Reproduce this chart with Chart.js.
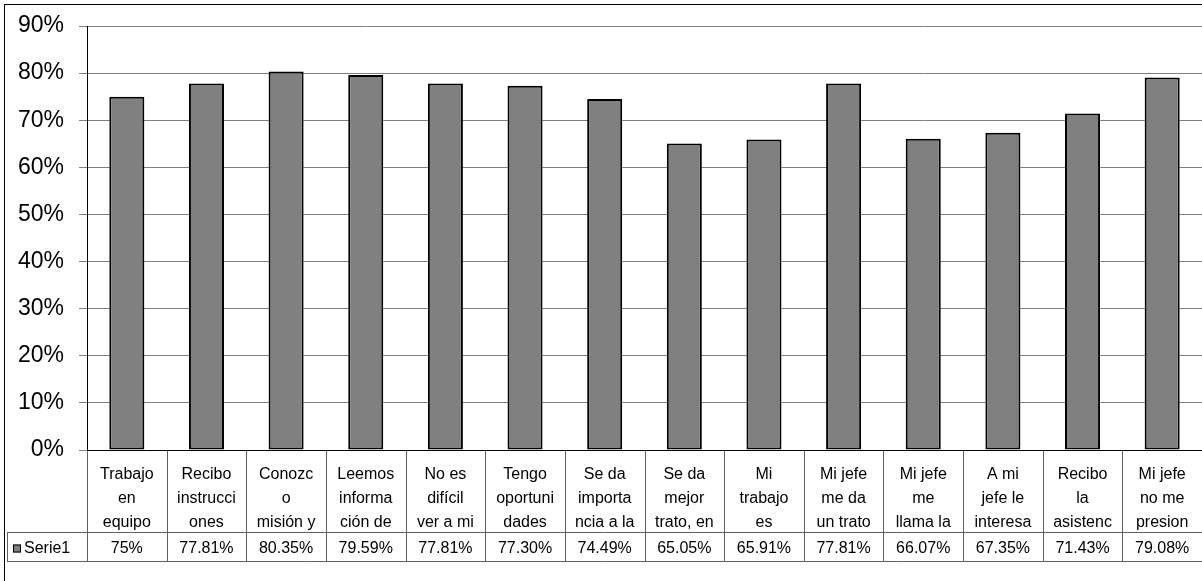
<!DOCTYPE html>
<html>
<head>
<meta charset="utf-8">
<script src="https://cdn.jsdelivr.net/npm/chart.js@4"></script>
<style>
  body { margin: 0; background: #fff; }
  canvas { display: block; }
</style>
</head>
<body>
<canvas id="encuestaChart" width="1202" height="581"></canvas>
<script>
// Survey results per statement (wrapped text as it fits in each cell)
const categories = [
    ['Trabajo', 'en', 'equipo'],
    ['Recibo', 'instrucci', 'ones'],
    ['Conozc', 'o', 'misión y'],
    ['Leemos', 'informa', 'ción de'],
    ['No es', 'difícil', 'ver a mi'],
    ['Tengo', 'oportuni', 'dades'],
    ['Se da', 'importa', 'ncia a la'],
    ['Se da', 'mejor', 'trato, en'],
    ['Mi', 'trabajo', 'es'],
    ['Mi jefe', 'me da', 'un trato'],
    ['Mi jefe', 'me', 'llama la'],
    ['A mi', 'jefe le', 'interesa'],
    ['Recibo', 'la', 'asistenc'],
    ['Mi jefe', 'no me', 'presion']
];
const seriesName = 'Serie1';
const serie1 = [75, 77.81, 80.35, 79.59, 77.81, 77.30, 74.49, 65.05, 65.91, 77.81, 66.07, 67.35, 71.43, 79.08];
const yTicks = [0, 10, 20, 30, 40, 50, 60, 70, 80, 90];

const FONT = '"Liberation Sans", Arial, sans-serif';
const BAR_GREY = '#808080';

function formatPct(v) {
    return (Number.isInteger(v) ? v : v.toFixed(2)) + '%';
}

// Outer frame of the chart object
const framePlugin = {
    id: 'frame',
    beforeDraw(chart) {
        const ctx = chart.ctx;
        ctx.save();
        ctx.strokeStyle = '#000';
        ctx.lineWidth = 1;
        ctx.strokeRect(4.5, 4.5, chart.width + 10, chart.height + 10);
        ctx.restore();
    }
};

// Data table under the plot: cell borders, legend key and the values row
const dataTablePlugin = {
    id: 'dataTable',
    afterDraw(chart) {
        const ctx = chart.ctx;
        const x = chart.scales.x;
        const area = chart.chartArea;
        const half = (x.getPixelForValue(1) - x.getPixelForValue(0)) / 2;
        const top = area.bottom;
        const rowTop = 532;
        const rowBottom = 561;
        const tableLeft = 7;

        ctx.save();
        ctx.lineWidth = 1;
        ctx.strokeStyle = '#606060';
        ctx.beginPath();
        for (let i = 0; i < serie1.length; i++) {
            const bx = Math.round(x.getPixelForValue(i) - half) + 0.5;
            ctx.moveTo(bx, top);
            ctx.lineTo(bx, rowBottom);
        }
        ctx.moveTo(tableLeft + 0.5, rowTop);
        ctx.lineTo(tableLeft + 0.5, rowBottom);
        ctx.moveTo(tableLeft, rowTop + 0.5);
        ctx.lineTo(area.right, rowTop + 0.5);
        ctx.moveTo(tableLeft, rowBottom + 0.5);
        ctx.lineTo(area.right, rowBottom + 0.5);
        ctx.stroke();

        // axis line across the top of the table
        ctx.strokeStyle = '#000';
        ctx.beginPath();
        ctx.moveTo(area.left, Math.round(top) + 0.5);
        ctx.lineTo(area.right, Math.round(top) + 0.5);
        ctx.stroke();

        // legend key + series name
        const midY = (rowTop + rowBottom) / 2 + 2;
        ctx.fillStyle = BAR_GREY;
        ctx.fillRect(13, midY - 4, 8, 8);
        ctx.strokeStyle = '#000';
        ctx.strokeRect(13.5, midY - 3.5, 7, 7);

        ctx.fillStyle = '#000';
        ctx.font = '16px ' + FONT;
        ctx.textBaseline = 'middle';
        ctx.textAlign = 'left';
        ctx.fillText(seriesName, 24, midY);

        ctx.textAlign = 'center';
        serie1.forEach((v, i) => {
            ctx.fillText(formatPct(v), x.getPixelForValue(i), midY);
        });
        ctx.restore();
    }
};

const ctx = document.getElementById('encuestaChart').getContext('2d');
new Chart(ctx, {
    type: 'bar',
    data: {
        labels: categories,
        datasets: [{
            label: seriesName,
            data: serie1,
            backgroundColor: BAR_GREY,
            borderColor: '#000',
            borderWidth: 2,
            borderSkipped: false,
            barPercentage: 0.44,
            categoryPercentage: 1
        }]
    },
    options: {
        responsive: false,
        animation: false,
        layout: { padding: { top: 26, right: 0, bottom: 0, left: 0 } },
        plugins: {
            legend: { display: false },
            tooltip: { enabled: false }
        },
        scales: {
            x: {
                grid: { display: false },
                border: { display: false },
                ticks: {
                    autoSkip: false,
                    maxRotation: 0,
                    minRotation: 0,
                    padding: 5,
                    color: '#000',
                    font: { family: FONT, size: 16, lineHeight: '24px' }
                },
                afterFit(scale) {
                    scale.height = 131;
                    scale.paddingLeft = 0;
                    scale.paddingRight = 0;
                }
            },
            y: {
                min: 0,
                max: 90,
                afterBuildTicks(scale) {
                    scale.ticks = yTicks.map(v => ({ value: v }));
                },
                grid: { color: '#808080', lineWidth: 1, tickLength: 8 },
                border: { color: '#000', width: 1 },
                ticks: {
                    padding: 15,
                    color: '#000',
                    font: { family: FONT, size: 23 },
                    callback: v => v + '%'
                },
                afterFit(scale) {
                    scale.width = 87;
                    scale.paddingTop = 0;
                    scale.paddingBottom = 0;
                }
            }
        }
    },
    plugins: [framePlugin, dataTablePlugin]
});
</script>
</body>
</html>
